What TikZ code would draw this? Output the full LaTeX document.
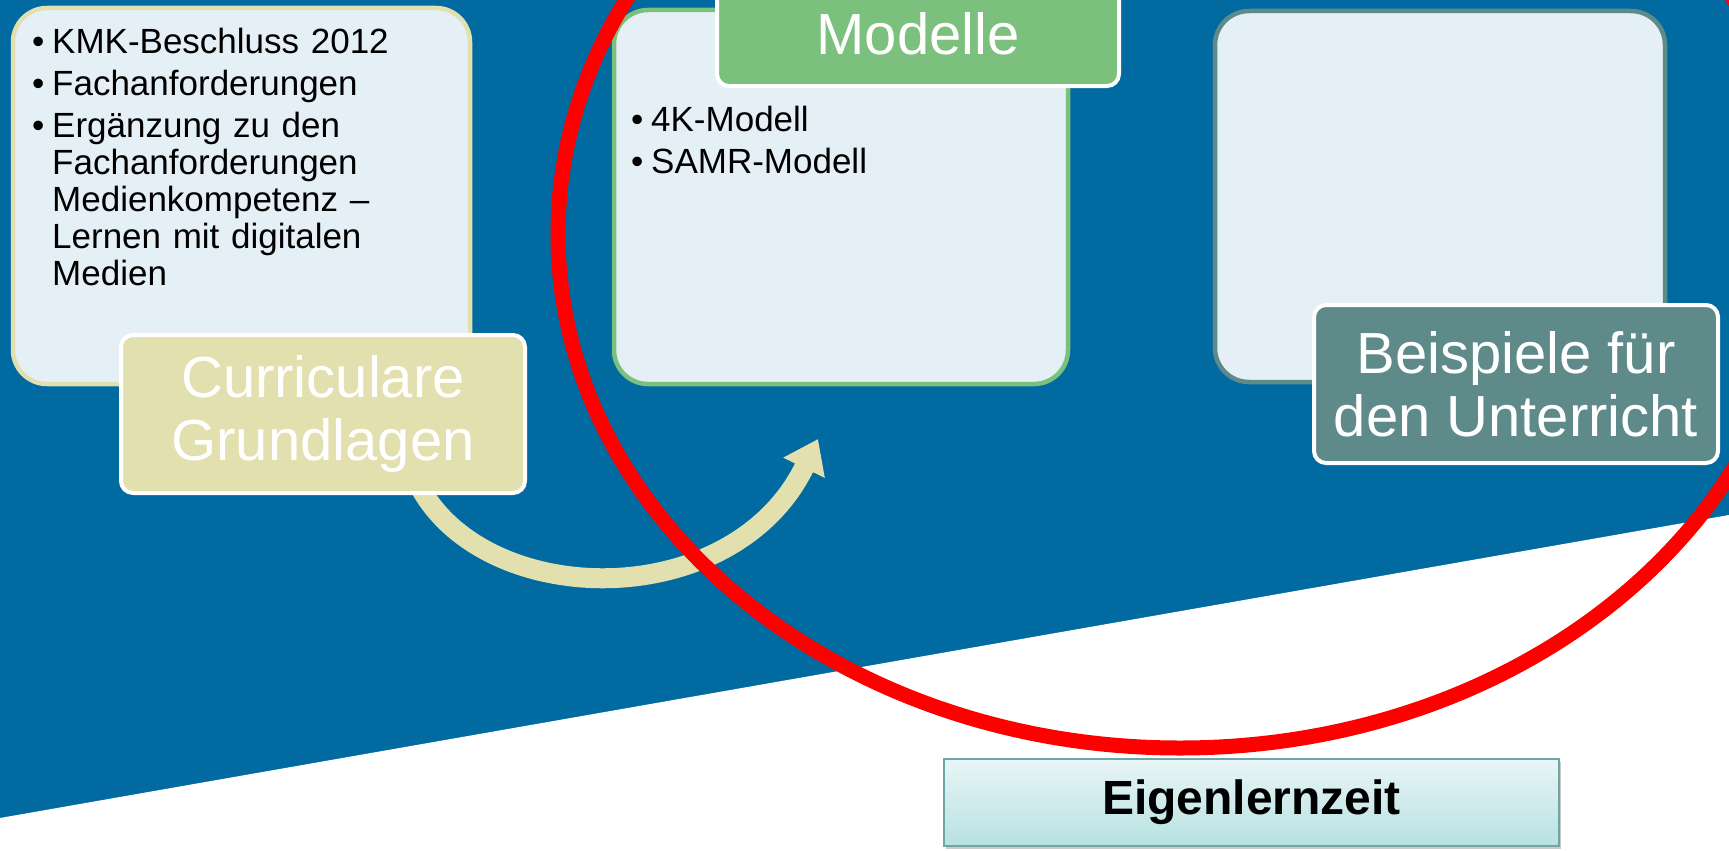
\documentclass[tikz,border=0pt]{standalone}
\usepackage{fontspec}
\setmainfont{Liberation Sans}
\usetikzlibrary{arrows.meta,shadows}

\definecolor{slideblue}{RGB}{0,106,161}
\definecolor{paneblue}{RGB}{229,240,246}
\definecolor{khaki}{RGB}{226,224,174}
\definecolor{leafgreen}{RGB}{124,192,126}
\definecolor{slate}{RGB}{94,138,137}
\definecolor{mintlight}{RGB}{233,245,246}
\definecolor{mintdark}{RGB}{184,225,226}
\definecolor{mintedge}{RGB}{110,165,166}

\tikzset{
    pane/.style={draw=#1, line width=4.5pt, fill=paneblue, rounded corners=34pt, inner sep=0pt},
    tag/.style={draw=white, line width=4pt, fill=#1, rounded corners=12pt, text=white, align=center, inner sep=0pt, font=\fontsize{58}{63}\selectfont},
    bullets/.style={anchor=north west, inner sep=0pt, text width=#1, align=left, font=\fontsize{35}{37}\selectfont, execute at begin node={\setlength{\parskip}{5pt}}},
}
\newcommand{\bitem}[1]{\par\hangindent=20pt\hangafter=1\noindent\makebox[20pt][l]{\textbullet}#1\par}

\begin{document}
\begin{tikzpicture}[x=1pt,y=-1pt]
        \useasboundingbox (0,0) rectangle (1729,851);
        \clip (0,0) rectangle (1729,851);
        \fill [slideblue] (0,0) rectangle (1729,851);
        \fill [white] (0,818) -- (1729,515) -- (1729,851) -- (0,851) -- cycle;

        \node [pane=khaki, minimum width=457pt, minimum height=376pt] (curpane) at (241.5,196) {};
        \node [pane=leafgreen, minimum width=454pt, minimum height=374pt] (modpane) at (841,197) {};
        \node [pane=slate, minimum width=450pt, minimum height=371pt] (exapane) at (1440,196.5) {};

        \node [bullets=420pt] (curlist) at (32,11) {%
            \bitem{KMK-Beschluss 2012}
            \bitem{Fachanforderungen}
            \bitem{Ergänzung zu den\newline Fachanforderungen\newline Medienkompetenz –\newline Lernen mit digitalen\newline Medien}};
        \node [bullets=400pt] (modlist) at (631,89) {%
            \bitem{4K-Modell}
            \bitem{SAMR-Modell}};

        \coordinate (arrowtip) at (818,439);
        \draw [khaki, line width=20pt, -{Triangle[width=44pt,length=32pt]}] (412,470) .. controls (465,610) and (730,620) .. (arrowtip);

        \node [tag=khaki, minimum width=404pt, minimum height=158pt] (curtag) at (323,414) {Curriculare\\Grundlagen};
        \node [tag=leafgreen, minimum width=402pt, minimum height=104pt] (modtag) at (918,34) {Modelle};
        \node [tag=slate, minimum width=404pt, minimum height=158pt] (exatag) at (1516,384) {Beispiele für\\den Unterricht};

        \draw [red, line width=15pt] (1180,234) ellipse [x radius=622, y radius=514];

        \node [draw=mintedge, line width=1.5pt, top color=mintlight, bottom color=mintdark, minimum width=615pt, minimum height=87pt, drop shadow={shadow xshift=2pt, shadow yshift=-3pt, fill=black!40}, font=\bfseries\fontsize{48}{56}\selectfont] (selfstudy) at (1251.5,802.5) {Eigenlernzeit};
\end{tikzpicture}
\end{document}
